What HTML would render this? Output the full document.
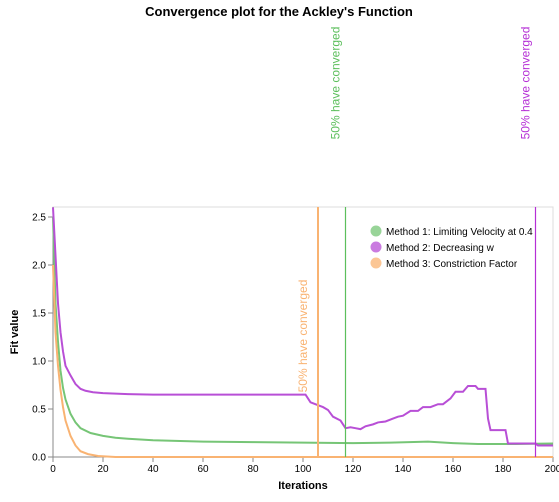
<!DOCTYPE html>
<html><head><meta charset="utf-8"><style>
body{margin:0;background:#fff;font-family:"Liberation Sans",Arial,sans-serif}
svg text{font-family:"Liberation Sans",Arial,sans-serif}
</style></head><body>
<svg width="559" height="497">
<text x="279" y="16" text-anchor="middle" font-size="13" font-weight="bold">Convergence plot for the Ackley's Function</text>
<g id="plot"></g>
</svg>
<script>
const m1x=[0,1,2,3,4,5,7,9,11,15,20,25,30,40,60,80,100,120,135,150,160,170,185,200];
const m1y=[2.5,1.6,1.2,0.9,0.72,0.6,0.45,0.36,0.3,0.25,0.22,0.2,0.19,0.175,0.16,0.155,0.15,0.145,0.15,0.16,0.145,0.135,0.135,0.14];
const m2x=[0,1,2,3,4,5,7,9,11,13,16,20,30,40,101,103,106,108,110,112,115,117,119,121,123,125,128,130,133,136,138,140,143,146,148,151,154,156,159,161,164,166,169,170,173,174,175,181,182,193,194,200];
const m2y=[2.6,2.1,1.6,1.3,1.1,0.95,0.85,0.76,0.71,0.69,0.675,0.665,0.655,0.65,0.65,0.57,0.54,0.52,0.49,0.42,0.38,0.3,0.31,0.3,0.29,0.32,0.34,0.36,0.37,0.4,0.42,0.43,0.48,0.48,0.52,0.52,0.55,0.55,0.61,0.68,0.68,0.74,0.74,0.71,0.71,0.4,0.28,0.28,0.14,0.14,0.12,0.12];
const m3x=[0,1,2,3,4,5,7,9,11,14,18,25,200];
const m3y=[2.0,1.3,0.95,0.7,0.52,0.38,0.22,0.12,0.06,0.03,0.01,0.0,0.0];
const xTicks=[0,20,40,60,80,100,120,140,160,180,200];
const yTicks=[0,0.5,1.0,1.5,2.0,2.5];
const convX=[117,193,106];
const colors=['#76c576','#b84fd6','#f9b372'];
const lineColors=['#5cbf5c','#b52fd6','#f9b372'];
const X0=53,X1=553,Y0=457,YT=207;
const sx=v=>X0+v*(X1-X0)/200;
const sy=v=>Y0-v*96;
const NS='http://www.w3.org/2000/svg';
const g=document.getElementById('plot');
function el(t,a,p){const e=document.createElementNS(NS,t);for(const k in a)e.setAttribute(k,a[k]);(p||g).appendChild(e);return e;}
let f=el('rect',{x:X0,y:YT,width:X1-X0,height:Y0-YT,fill:'none',stroke:'#ddd'});


el('line',{x1:X0,y1:YT,x2:X0,y2:Y0,stroke:'#888'});
el('line',{x1:X0,y1:Y0,x2:X1,y2:Y0,stroke:'#888'});
xTicks.forEach(t=>{el('line',{x1:sx(t),x2:sx(t),y1:Y0,y2:Y0+5,stroke:'#888'});
 const tx=el('text',{x:sx(t),y:Y0+15,'text-anchor':'middle','font-size':10});tx.textContent=t;
 
 });
yTicks.forEach(t=>{el('line',{x1:X0-5,x2:X0,y1:sy(t),y2:sy(t),stroke:'#888'});
 const tx=el('text',{x:X0-7,y:sy(t)+3.5,'text-anchor':'end','font-size':10});tx.textContent=t.toFixed(1);
 
 });
let xt=el('text',{x:303,y:489,'text-anchor':'middle','font-size':11,'font-weight':'bold'});xt.textContent='Iterations';


let yt=el('text',{x:18,y:332,'text-anchor':'middle','font-size':11,'font-weight':'bold',transform:'rotate(-90 18 332)'});yt.textContent='Fit value';


[[m1x,m1y],[m2x,m2y],[m3x,m3y]].forEach((s,i)=>{
 const p=el('polyline',{points:s[0].map((x,j)=>sx(x)+','+sy(s[1][j])).join(' '),fill:'none',stroke:colors[i],'stroke-width':2});
 
 });
convX.forEach((c,i)=>{
 const l=el('line',{x1:sx(c),x2:sx(c),y1:YT,y2:Y0,stroke:lineColors[i],'stroke-width':i==2?2:1.2});
 
 
 const lx=sx(c)-(i==2?11:6), ly=i==2?336:83;
 const t=el('text',{x:lx,y:ly,'text-anchor':'middle','font-size':12,fill:lineColors[i],transform:`rotate(-90 ${lx} ${ly})`});
 t.textContent='50% have converged';
 
 });
const names=['Method 1: Limiting Velocity at 0.4','Method 2: Decreasing w','Method 3: Constriction Factor'];
names.forEach((n,i)=>{
 const c=el('circle',{cx:376,cy:231+i*16,r:5.5,fill:colors[i],'fill-opacity':0.75});
 
 
 const t=el('text',{x:386,y:235+i*16,'font-size':10});t.textContent=n;
 
 });
</script>
</body></html>
